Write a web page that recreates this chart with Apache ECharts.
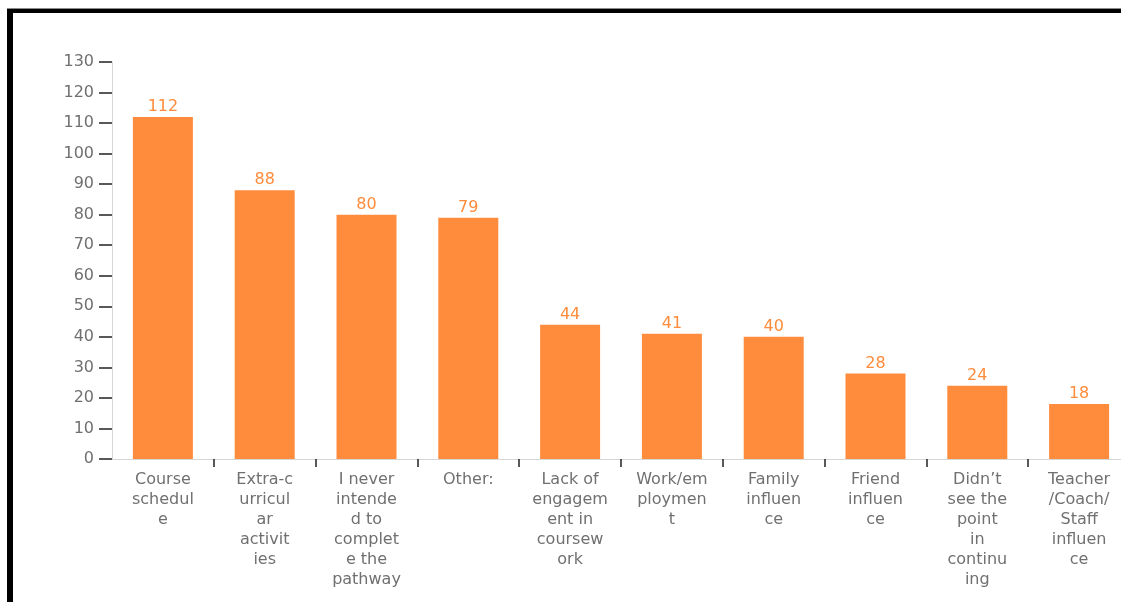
<!DOCTYPE html>
<html>
<head>
<meta charset="utf-8">
<title>Reasons for leaving the pathway</title>
<script src="https://cdn.jsdelivr.net/npm/echarts@6/dist/echarts.min.js"></script>
<style>
  html, body { margin: 0; padding: 0; background: #fff; overflow: hidden; }
  #frame-top { position: absolute; left: 7px; top: 8px; width: 1200px; height: 1px; background: #8a8a8a; }
  #frame { position: absolute; left: 7px; top: 9px; width: 1200px; height: 700px;
           border-left: 6px solid #000; border-top: 4px solid #000; }
  #chart { position: absolute; left: 0; top: 0; width: 1121px; height: 602px; }
</style>
</head>
<body>
<div id="frame-top"></div>
<div id="frame"></div>
<div id="chart"></div>
<script>
// Response categories, in the order shown
const categories = [
  'Course schedule',
  'Extra-curricular activities',
  'I never intended to complete the pathway',
  'Other:',
  'Lack of engagement in coursework',
  'Work/employment',
  'Family influence',
  'Friend influence',
  "Didn't see the point in continuing",
  'Teacher/Coach/Staff influence'
];

// Axis labels as they wrap under each bar
const tickLabels = [
  'Course\nschedul\ne',
  'Extra-c\nurricul\nar\nactivit\nies',
  'I never\nintende\nd to\ncomplet\ne the\npathway',
  'Other:',
  'Lack of\nengagem\nent in\ncoursew\nork',
  'Work/em\nploymen\nt',
  'Family\ninfluen\nce',
  'Friend\ninfluen\nce',
  'Didn\u2019t\nsee the\npoint\nin\ncontinu\ning',
  'Teacher\n/Coach/\nStaff\ninfluen\nce'
];

// Number of responses per category
const counts = [112, 88, 80, 79, 44, 41, 40, 28, 24, 18];

// Value-axis ticks
const yTicks = [0, 10, 20, 30, 40, 50, 60, 70, 80, 90, 100, 110, 120, 130];

const chart = echarts.init(document.getElementById('chart'), null, { renderer: 'canvas' });
const font = '"DejaVu Sans", "Noto Sans", sans-serif';

chart.setOption({
  backgroundColor: 'transparent',
  animation: false,
  grid: {
    left: 112, top: 62, width: 1018, height: 397,
    containLabel: false,
    outerBoundsMode: 'none'
  },
  xAxis: {
    type: 'category',
    data: categories,
    axisLine: { lineStyle: { color: '#d6d6d6', width: 1 } },
    axisTick: {
      show: true,
      length: 8,
      lineStyle: { color: '#222', width: 1.5 },
      // no separator tick where the x axis meets the y axis
      interval: (index) => index > 0
    },
    axisLabel: {
      interval: 0,
      margin: 11,
      color: '#707070',
      fontFamily: font,
      fontSize: 16,
      lineHeight: 20,
      align: 'center',
      formatter: (v, i) => tickLabels[i]
    }
  },
  yAxis: {
    type: 'value',
    min: yTicks[0],
    max: yTicks[yTicks.length - 1],
    interval: 10,
    splitLine: { show: false },
    axisLine: { show: true, lineStyle: { color: '#d6d6d6', width: 1 } },
    axisTick: { show: true, length: 13, lineStyle: { color: '#222', width: 1.5 } },
    axisLabel: {
      margin: 18,
      color: '#707070',
      fontFamily: font,
      fontSize: 16
    }
  },
  series: [{
    type: 'bar',
    data: counts,
    barWidth: 60,
    itemStyle: { color: '#ff8c3c' },
    label: {
      show: true,
      position: 'top',
      distance: 2,
      color: '#ff8c3c',
      fontFamily: font,
      fontSize: 16
    }
  }]
});
</script>
</body>
</html>
